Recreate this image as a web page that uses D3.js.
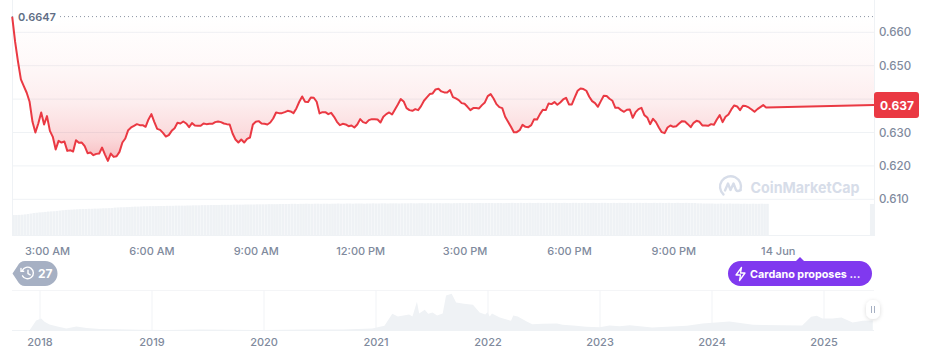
<!DOCTYPE html>
<html lang="en">
<head>
    <meta charset="UTF-8">
    <title>ADA price chart</title>
    <script src="https://d3js.org/d3.v7.min.js"></script>
    <style>
        html, body { margin: 0; padding: 0; background: #fff; overflow: hidden; }
        svg { display: block; }
        text { font-family: Inter, "Noto Sans", sans-serif; }
        .tick text { fill: #808a9d; font-size: 11px; font-weight: 500; }
        .y-axis .tick text { font-size: 11.5px; }
        .domain { display: none; }
    </style>
</head>
<body>
    <svg id="chart" width="930" height="364"></svg>
    <script>
        // 5 minute closes from 13 Jun 02:00
        const prices = [
            0.6647, 0.6572, 0.6512, 0.6459, 0.6439, 0.6419, 0.6392, 0.6332, 0.6300, 0.6327, 0.6360, 0.6324,
            0.6349, 0.6305, 0.6287, 0.6249, 0.6275, 0.6270, 0.6273, 0.6245, 0.6247, 0.6243, 0.6277, 0.6269,
            0.6270, 0.6259, 0.6238, 0.6240, 0.6232, 0.6236, 0.6237, 0.6255, 0.6234, 0.6215, 0.6237, 0.6227,
            0.6229, 0.6242, 0.6270, 0.6282, 0.6307, 0.6315, 0.6320, 0.6325, 0.6322, 0.6322, 0.6317, 0.6339,
            0.6355, 0.6332, 0.6311, 0.6308, 0.6299, 0.6288, 0.6292, 0.6305, 0.6313, 0.6329, 0.6327, 0.6333,
            0.6327, 0.6316, 0.6328, 0.6321, 0.6320, 0.6320, 0.6327, 0.6325, 0.6326, 0.6326, 0.6331, 0.6333,
            0.6331, 0.6327, 0.6325, 0.6324, 0.6297, 0.6279, 0.6270, 0.6279, 0.6270, 0.6281, 0.6285, 0.6324,
            0.6332, 0.6334, 0.6327, 0.6326, 0.6324, 0.6330, 0.6342, 0.6360, 0.6358, 0.6358, 0.6361, 0.6365,
            0.6363, 0.6358, 0.6372, 0.6392, 0.6408, 0.6392, 0.6391,
            0.6405, 0.6404, 0.6392, 0.6357, 0.6361, 0.6361, 0.6355, 0.6359, 0.6347, 0.6332, 0.6322, 0.6326,
            0.6324, 0.6319, 0.6321, 0.6315, 0.6324, 0.6340, 0.6331, 0.6328, 0.6337, 0.6340, 0.6340, 0.6339,
            0.6330, 0.6347, 0.6355, 0.6360, 0.6354, 0.6369, 0.6384, 0.6400, 0.6393, 0.6373, 0.6367, 0.6365,
            0.6370, 0.6367, 0.6379, 0.6395, 0.6405, 0.6415, 0.6417, 0.6429, 0.6431, 0.6423, 0.6420, 0.6420,
            0.6427, 0.6406, 0.6402, 0.6397, 0.6388, 0.6386, 0.6377, 0.6367, 0.6373, 0.6373, 0.6372, 0.6382,
            0.6390, 0.6409, 0.6415, 0.6402, 0.6385, 0.6376, 0.6373, 0.6347, 0.6332, 0.6317, 0.6301, 0.6301,
            0.6307, 0.6323, 0.6317, 0.6316, 0.6322, 0.6340, 0.6339, 0.6355, 0.6368, 0.6367, 0.6387, 0.6385,
            0.6391, 0.6383, 0.6390, 0.6399, 0.6404, 0.6384, 0.6384, 0.6405, 0.6425, 0.6432, 0.6430, 0.6425,
            0.6407, 0.6394, 0.6388, 0.6377, 0.6394, 0.6410, 0.6409, 0.6401, 0.6395, 0.6374, 0.6374,
            0.6367, 0.6362, 0.6368, 0.6369, 0.6344, 0.6361, 0.6370, 0.6374, 0.6352, 0.6345, 0.6325, 0.6341,
            0.6331, 0.6315, 0.6301, 0.6298, 0.6315, 0.6321, 0.6317, 0.6319, 0.6327, 0.6334, 0.6333, 0.6325,
            0.6316, 0.6329, 0.6335, 0.6332, 0.6321, 0.6321, 0.6320, 0.6325, 0.6323, 0.6339, 0.6352, 0.6331,
            0.6347, 0.6354, 0.6369, 0.6381, 0.6378, 0.6367, 0.6380, 0.6379, 0.6375, 0.6369, 0.6362, 0.6370,
            0.6376, 0.6382, 0.6375
        ];
        // same 5 minute steps, millions
        const volumes = [
            620, 620, 625, 630, 640, 650, 665, 680, 690, 700, 705, 715,
            725, 730, 735, 745, 755, 765, 775, 780, 785, 790, 795, 800,
            805, 805, 810, 810, 815, 815, 820, 825, 825, 830, 835, 845,
            850, 855, 855, 860, 865, 870, 875, 875, 880, 885, 885, 890,
            890, 890, 895, 895, 895, 900, 900, 900, 905, 905, 905, 905,
            910, 910, 915, 915, 915, 920, 920, 920, 925, 925, 925, 925,
            930, 930, 930, 930, 935, 935, 935, 935, 940, 940, 940, 940,
            945, 945, 945, 945, 950, 950, 950, 950, 955, 955, 955, 955,
            960, 960, 955, 960, 960, 965, 960, 960, 965, 965, 960, 965,
            965, 960, 965, 965, 970, 965, 965, 970, 970, 965, 970, 970,
            970, 965, 970, 970, 975, 970, 970, 975, 975, 970, 975, 975,
            975, 970, 975, 975, 975, 980, 975, 975, 980, 980, 975, 980,
            980, 975, 980, 980, 975, 980, 980, 975, 980, 980, 985, 980,
            980, 985, 985, 980, 985, 985, 980, 985, 985, 985, 980, 985,
            985, 980, 985, 985, 990, 985, 985, 990, 985, 985, 990, 985,
            985, 990, 985, 985, 990, 990, 985, 990, 985, 985, 990, 985,
            985, 990, 990, 985, 985, 990, 985, 985, 990, 985, 985, 990,
            990, 985, 985, 990, 985, 990, 985, 985, 990, 985, 985, 990,
            990, 985, 990, 985, 985, 990, 985, 990, 985, 985, 990, 985,
            985, 990, 985, 985, 990, 985, 985, 985, 975, 975, 970, 970,
            970, 970, 965, 965, 970, 965, 965, 970, 965, 965, 965, 960,
            965, 960, 960, 965, 960, 960, 965, 960, 960
        ];
        const lastPrice = 0.6382;
        const lastVolume = 955;
        const lastLabel = "0.637";
        const yTicks = [0.61, 0.62, 0.63, 0.64, 0.65, 0.66];
        // 0.640 is hidden behind the price tag
        const yTickLabels = [0.61, 0.62, 0.63, 0.65, 0.66];

        // range navigator, ADA close by decimal year
        const navYears = [
            2017.91, 2017.94, 2017.97, 2018.015, 2018.045, 2018.09, 2018.16, 2018.24, 2018.33, 2018.42, 2018.54,
            2018.68, 2018.89, 2019.13, 2019.43, 2019.99, 2020.41, 2020.71, 2020.97, 2021.08, 2021.15, 2021.20,
            2021.30, 2021.33, 2021.37, 2021.39, 2021.44, 2021.47, 2021.51, 2021.55, 2021.60, 2021.63, 2021.68,
            2021.72, 2021.79, 2021.87, 2021.93, 2021.98, 2022.00, 2022.02, 2022.04, 2022.11, 2022.21, 2022.23,
            2022.27, 2022.35, 2022.40, 2022.49, 2022.62, 2022.67, 2022.79, 2022.88, 2023.00, 2023.09, 2023.18,
            2023.27, 2023.47, 2023.78, 2023.92, 2024.16, 2024.37, 2024.81, 2024.89, 2024.94, 2024.99, 2025.08,
            2025.16, 2025.26, 2025.35, 2025.44
        ];
        const navPrices = [
            0, 0.40, 0.81, 0.97, 0.70, 0.48, 0.32, 0.16, 0.32, 0.20, 0.13,
            0.10, 0.07, 0.04, 0.08, 0.04, 0.08, 0.09, 0.16, 0.38, 1.35, 1.13,
            1.29, 1.13, 2.31, 1.37, 1.67, 1.35, 1.45, 1.21, 1.37, 2.82, 2.96,
            2.26, 2.15, 2.07, 1.45, 1.29, 1.47, 1.13, 1.37, 1.05, 0.78, 1.21,
            1.13, 0.73, 0.51, 0.54, 0.56, 0.46, 0.38, 0.30, 0.27, 0.40, 0.35,
            0.43, 0.24, 0.38, 0.56, 0.73, 0.46, 0.40, 1.10, 1.19, 0.97, 0.97,
            1.05, 0.65, 0.78, 0.81
        ];
        const navTicks = [2018, 2019, 2020, 2021, 2022, 2023, 2024, 2025];

        const RED = "#ea3943";
        const GRID = "#eff2f5";
        const left = 12, right = 874;
        const svg = d3.select("#chart");

        const startTime = Date.UTC(2025, 5, 13, 2, 0);
        const step = 5 * 60 * 1000;
        const timeAt = i => new Date(startTime + i * step);

        const x = d3.scaleUtc()
            .domain([timeAt(0), new Date(Date.UTC(2025, 5, 14, 2, 46))])
            .range([left + 0.2, right]);
        const y = d3.scaleLinear().domain([0.61, 0.66]).range([199.3, 32.3]);
        const yVol = d3.scaleLinear().domain([0, 1000]).range([235.5, 202.5]);

        const navX = d3.scaleLinear().domain([2018, 2025]).range([39.5, 823.5]);
        const navY = d3.scaleLinear().domain([0, 3]).range([330.5, 293.3]);

        const high = d3.max(prices);
        const linePoints = prices.map((p, i) => [timeAt(i), p]);
        linePoints.push([x.domain()[1], lastPrice]);

        // gradient sits between the high and the line
        const defs = svg.append("defs");
        const grad = defs.append("linearGradient")
            .attr("id", "priceFill")
            .attr("gradientUnits", "userSpaceOnUse")
            .attr("x1", 0).attr("x2", 0)
            .attr("y1", y(high)).attr("y2", y(0.6215));
        [[0, 0], [0.3, 0.03], [0.6, 0.09], [0.85, 0.2], [1, 0.34]].forEach(s => {
            grad.append("stop").attr("offset", s[0]).attr("stop-color", RED).attr("stop-opacity", s[1]);
        });

        // frame and grid
        svg.append("g").selectAll("line")
            .data(yTicks)
            .join("line")
            .attr("x1", left).attr("x2", right)
            .attr("y1", d => y(d)).attr("y2", d => y(d))
            .attr("stroke", GRID);
        [left, right].forEach(v => {
            svg.append("line").attr("x1", v + 0.5).attr("x2", v + 0.5).attr("y1", 0).attr("y2", 236)
                .attr("stroke", GRID);
        });
        svg.append("line").attr("x1", left).attr("x2", right).attr("y1", 235.5).attr("y2", 235.5)
            .attr("stroke", GRID);

        // volume bars
        const barW = x(timeAt(1)) - x(timeAt(0));
        svg.append("g").selectAll("rect")
            .data(volumes)
            .join("rect")
            .attr("x", (d, i) => x(timeAt(i)))
            .attr("y", d => yVol(d))
            .attr("width", barW - 0.25)
            .attr("height", d => yVol(0) - yVol(d))
            .attr("fill", GRID);
        svg.append("rect")
            .attr("x", x(new Date(Date.UTC(2025, 5, 14, 2, 39))))
            .attr("y", yVol(lastVolume))
            .attr("width", 4)
            .attr("height", yVol(0) - yVol(lastVolume))
            .attr("fill", GRID);

        // watermark
        const mark = svg.append("g").attr("transform", "translate(730.5,187)")
            .attr("fill", "none").attr("stroke", "#d7dde9").attr("stroke-width", 2.4)
            .attr("stroke-linecap", "round").attr("stroke-linejoin", "round");
        mark.append("path").attr("d", "M-7,7.5A10.5,10.5 0 1 1 10,3");
        mark.append("path").attr("d", "M-5.5,3.5L-2.5,-3.5L0,3L3,-3.5L5.5,3Q7,5 10,3");
        svg.append("text")
            .attr("x", 750.5).attr("y", 193)
            .attr("fill", "#d7dde9")
            .attr("font-size", 15).attr("font-weight", 700)
            .attr("textLength", 109).attr("lengthAdjust", "spacingAndGlyphs")
            .text("CoinMarketCap");

        // price area and line
        svg.append("path")
            .datum(linePoints)
            .attr("d", d3.area().x(d => x(d[0])).y0(y(high)).y1(d => y(d[1])))
            .attr("fill", "url(#priceFill)");
        svg.append("path")
            .datum(linePoints)
            .attr("d", d3.line().x(d => x(d[0])).y(d => y(d[1])))
            .attr("fill", "none")
            .attr("stroke", RED)
            .attr("stroke-width", 2)
            .attr("stroke-linejoin", "round");

        // high marker
        svg.append("line")
            .attr("x1", left).attr("x2", right - 1)
            .attr("y1", y(high)).attr("y2", y(high))
            .attr("stroke", "#8b93a3").attr("stroke-dasharray", "1,3");
        svg.append("rect").attr("x", 15).attr("y", y(high) - 8).attr("width", 44).attr("height", 16).attr("fill", "#fff");
        svg.append("text")
            .attr("x", 18).attr("y", y(high) + 4.5)
            .attr("fill", "#616e85")
            .attr("font-size", 11).attr("font-weight", 600)
            .text(d3.format(".4f")(high));

        // axes
        const yAxis = d3.axisRight(y).tickValues(yTickLabels).tickFormat(d3.format(".3f")).tickSize(0).tickPadding(5);
        svg.append("g").attr("class", "y-axis").attr("transform", `translate(${right},0)`).call(yAxis);

        const xAxis = d3.axisBottom(x)
            .tickValues(d3.utcHour.every(3).range(timeAt(0), x.domain()[1]))
            .tickFormat(d => d.getUTCHours() === 0 ? d3.utcFormat("%-d %b")(d) : d3.utcFormat("%-I:%M %p")(d))
            .tickSize(0).tickPadding(6);
        svg.append("g").attr("transform", "translate(0,241)").call(xAxis);

        // last price tag
        svg.append("rect")
            .attr("x", right).attr("y", y(lastPrice) - 13)
            .attr("width", 45).attr("height", 26).attr("rx", 3)
            .attr("fill", RED);
        svg.append("text")
            .attr("x", right + 6).attr("y", y(lastPrice) + 4.5)
            .attr("fill", "#fff").attr("font-size", 12).attr("font-weight", 700)
            .text(lastLabel);

        // history badge
        svg.append("path")
            .attr("d", "M25,261H45A12.5,12.5 0 0 1 45,286H25Q20,286 17.5,281L12.5,273.5L17.5,266Q20,261 25,261Z")
            .attr("fill", "#a6b0c3");
        const clock = svg.append("g").attr("transform", "translate(27.5,273)")
            .attr("fill", "none").attr("stroke", "#fff").attr("stroke-width", 1.4)
            .attr("stroke-linecap", "round");
        clock.append("path").attr("d", "M-5.2,-2.5A5.8,5.8 0 1 1 -5,2.8");
        clock.append("path").attr("d", "M-6.5,-4.5V-1.8H-3.8M0.5,-2.8V0.5L2.7,1.8");
        svg.append("text")
            .attr("x", 38).attr("y", 277.5)
            .attr("fill", "#fff").attr("font-size", 12).attr("font-weight", 700)
            .text("27");

        // news pill
        svg.append("path").attr("d", "M796,261L800,257L804,261Z").attr("fill", "#8039ef");
        svg.append("rect")
            .attr("x", 728).attr("y", 261).attr("width", 144).attr("height", 25).attr("rx", 12.5)
            .attr("fill", "#8039ef");
        svg.append("path")
            .attr("d", "M741.5,267.5L736,275H740.5L739.5,280.5L745,273H740.5Z")
            .attr("fill", "none").attr("stroke", "#fff").attr("stroke-width", 1.3).attr("stroke-linejoin", "round");
        svg.append("text")
            .attr("x", 750).attr("y", 277.5)
            .attr("fill", "#fff").attr("font-size", 10.8).attr("font-weight", 700)
            .text("Cardano proposes ...");

        // navigator
        svg.append("line").attr("x1", left).attr("x2", right).attr("y1", 290.5).attr("y2", 290.5).attr("stroke", "#f4f5f7");
        svg.append("g").selectAll("line")
            .data(navTicks)
            .join("line")
            .attr("x1", d => navX(d) + 0.5).attr("x2", d => navX(d) + 0.5)
            .attr("y1", 290.5).attr("y2", 330.5)
            .attr("stroke", "#f1f3f6");
        svg.append("path")
            .attr("d", d3.area().x((d, i) => navX(navYears[i])).y0(navY(0)).y1(d => navY(d))(navPrices))
            .attr("fill", GRID);
        svg.append("line").attr("x1", left).attr("x2", right).attr("y1", 330.5).attr("y2", 330.5).attr("stroke", GRID);
        const navAxis = d3.axisBottom(navX).tickValues(navTicks).tickFormat(d3.format("d")).tickSize(0).tickPadding(7);
        svg.append("g").attr("transform", "translate(0,331)").call(navAxis);

        // navigator handle
        svg.append("filter").attr("id", "soft")
            .attr("x", "-50%").attr("y", "-50%").attr("width", "200%").attr("height", "200%")
            .append("feDropShadow").attr("dx", 0).attr("dy", 1).attr("stdDeviation", 2).attr("flood-color", "#000").attr("flood-opacity", 0.15);
        svg.append("rect")
            .attr("x", 866).attr("y", 300).attr("width", 14).attr("height", 19).attr("rx", 7)
            .attr("fill", "#fff").attr("filter", "url(#soft)");
        [871.5, 874.5].forEach(v => {
            svg.append("line").attr("x1", v).attr("x2", v).attr("y1", 306).attr("y2", 313)
                .attr("stroke", "#a6b0c3");
        });
    </script>
</body>
</html>
